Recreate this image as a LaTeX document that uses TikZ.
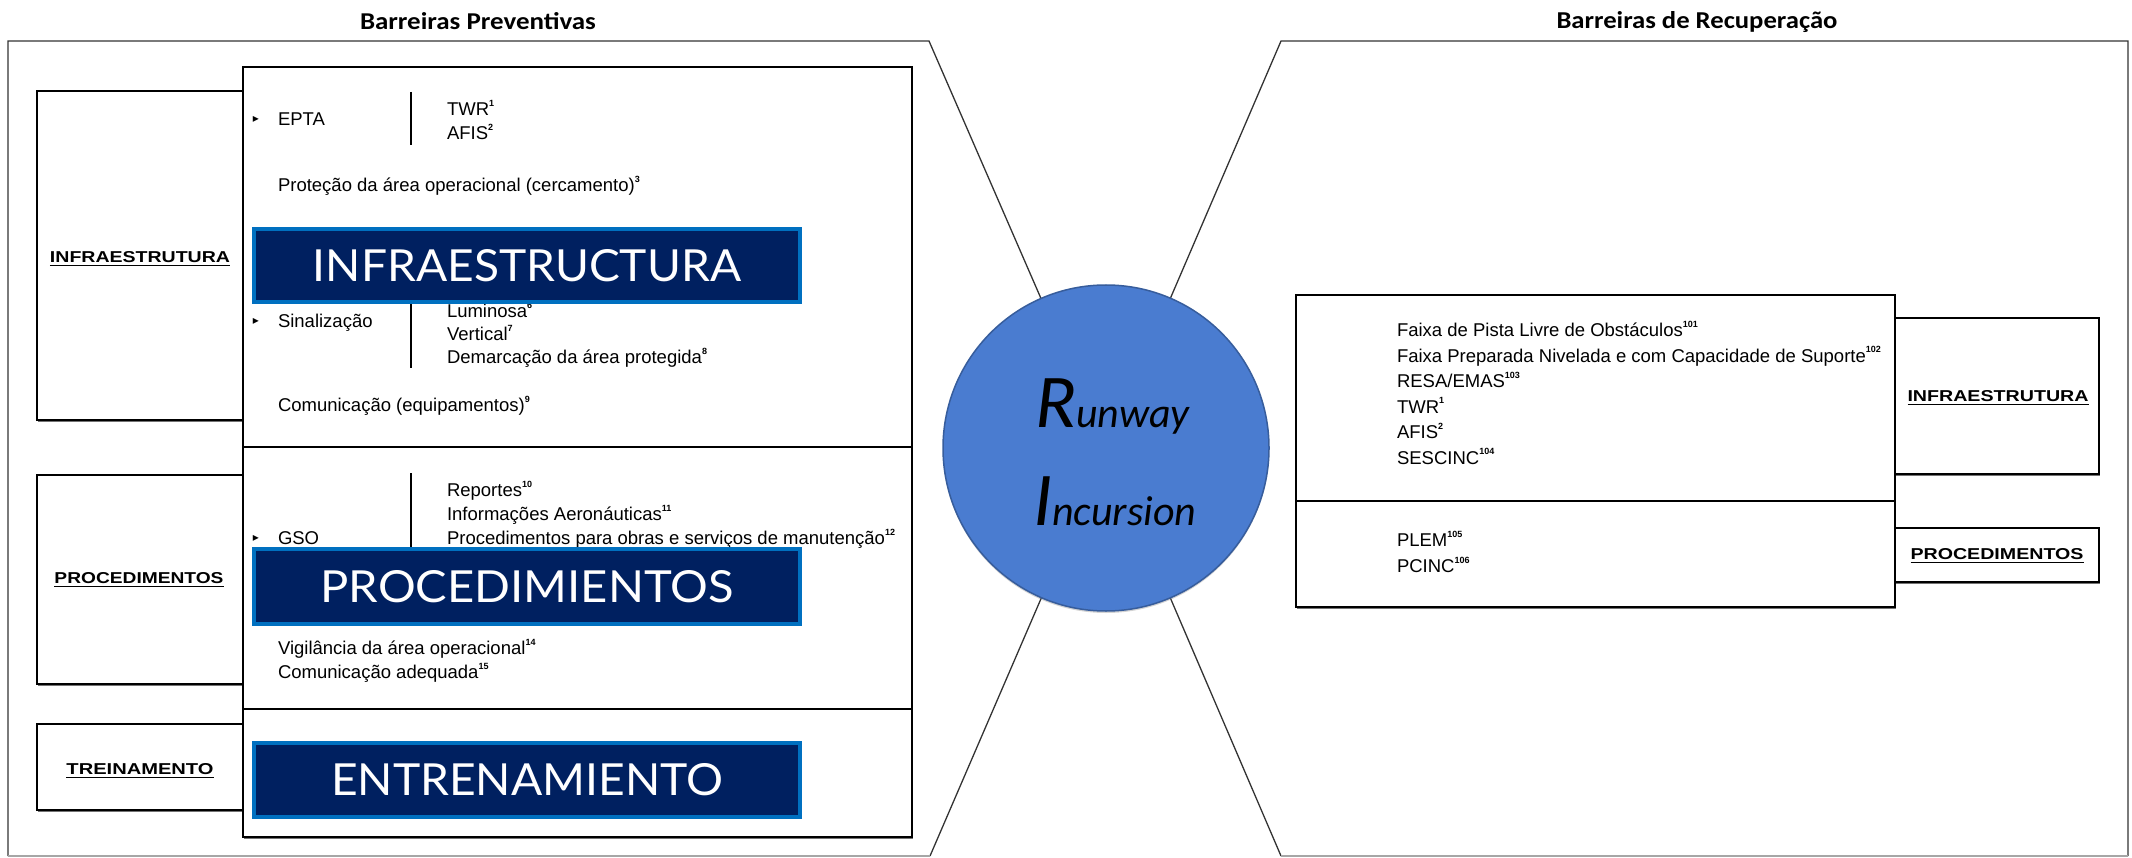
\documentclass[tikz,border=0pt]{standalone}
\usepackage{fontspec}
\setmainfont{Liberation Sans}
\newfontfamily\carl{Carlito}
\newfontfamily\latof{Lato}
\newfontfamily\dejav{DejaVu Sans}
\usetikzlibrary{shadows}
\definecolor{navy}{RGB}{0,32,96}
\definecolor{bblue}{RGB}{0,112,192}
\definecolor{circblue}{RGB}{74,124,208}
\newcommand{\supx}[1]{\raisebox{0.5em}{\fontsize{9}{9}\selectfont\bfseries #1}}
\newcommand{\bul}{{\dejav\fontsize{12}{12}\selectfont ▸}}
\begin{document}
\begin{tikzpicture}[x=1pt,y=-1pt,
  every node/.style={inner sep=0pt, outer sep=0pt},
  outerln/.style={draw=black!80, line width=1.3pt, line join=miter},
  bottomln/.style={draw=black!35, line width=1.3pt},
  boxst/.style={rectangle, draw=black, line width=1.4pt, fill=white,
     drop shadow={shadow xshift=1.2pt, shadow yshift=-2pt, fill=black!55, opacity=1}},
  bluebx/.style={rectangle, draw=bblue, line width=4pt, fill=navy, text=white},
  txt/.style={anchor=base west, font=\fontsize{18.5}{22}\selectfont},
  barln/.style={draw=black, line width=1.3pt},
  bultx/.style={anchor=center}
]
\useasboundingbox (0,0) rectangle (2132,858);
\coordinate (c) at (1106,448);

% titles
\node (tprev) at (478,21) {\resizebox{236pt}{17pt}{\carl\bfseries Barreiras Preventivas}};
\node (trec) at (1697,22) {\resizebox{281pt}{17pt}{\carl\bfseries Barreiras de Recuperação}};

% outer bow-tie shapes
\draw[outerln] (8,856) -- (8,41) -- (929,41) -- (c) -- (930,856);
\draw[bottomln] (8,856) -- (930,856);
\draw[outerln] (2128,856) -- (2128,41) -- (1281,41) -- (c) -- (1281,856);
\draw[bottomln] (1281,856) -- (2128,856);

% left label boxes
\node[boxst, minimum width=206pt, minimum height=329pt] (linfra) at (140,255.5) {};
\node[boxst, minimum width=206pt, minimum height=209pt] (lproc) at (140,579.5) {};
\node[boxst, minimum width=206pt, minimum height=86pt] (ltrein) at (140,767) {};
\node (linfratx) at (140,259) {\resizebox{180pt}{11pt}{\bfseries\underline{INFRAESTRUTURA}}};
\node (lproctx) at (139,580) {\resizebox{169pt}{11pt}{\bfseries\underline{PROCEDIMENTOS}}};
\node (ltreintx) at (140,771) {\resizebox{147pt}{11pt}{\bfseries\underline{TREINAMENTO}}};

% left content sections
\node[boxst, minimum width=669pt, minimum height=380pt] (sinfra) at (577.5,257) {};
\node[boxst, minimum width=669pt, minimum height=262pt] (sproc) at (577.5,578) {};
\node[boxst, minimum width=669pt, minimum height=128pt] (strein) at (577.5,773) {};

% infra content
\node[bultx] (b1) at (256,119) {\bul};
\node[txt] (epta) at (278,125.5) {EPTA};
\draw[barln] (411,92) -- (411,145);
\node[txt] (twr) at (447,115.5) {TWR\supx{1}};
\node[txt] (afis) at (447,139.5) {AFIS\supx{2}};
\node[txt] (prot) at (278,191.5) {Proteção da área operacional (cercamento)\supx{3}};
\node[bultx] (b2) at (256,321) {\bul};
\node[txt] (sinal) at (278,327.5) {Sinalização};
\draw[barln] (411,275) -- (411,368);
\node[txt] (lum) at (447,317.5) {Luminosa\supx{6}};
\node[txt] (vert) at (447,340.5) {Vertical\supx{7}};
\node[txt] (dem) at (447,363.5) {Demarcação da área protegida\supx{8}};
\node[txt] (comeq) at (278,411.5) {Comunicação (equipamentos)\supx{9}};

% procedimentos content
\node[bultx] (b3) at (256,538) {\bul};
\node[txt] (gso) at (278,544.5) {GSO};
\draw[barln] (411,473) -- (411,610);
\node[txt] (rep) at (447,496.5) {Reportes\supx{10}};
\node[txt] (inf) at (447,520.5) {Informações Aeronáuticas\supx{11}};
\node[txt] (pobr) at (447,544.5) {Procedimentos para obras e serviços de manutenção\supx{12}};
\node[txt] (vig) at (278,654.5) {Vigilância da área operacional\supx{14}};
\node[txt] (comad) at (278,678.5) {Comunicação adequada\supx{15}};

% blue overlay boxes
\node[bluebx, minimum width=546pt, minimum height=73pt] (bb1) at (527,265.5)
  {\resizebox{428pt}{32pt}{\latof INFRAESTRUCTURA}};
\node[bluebx, minimum width=546pt, minimum height=75pt] (bb2) at (527,586.5)
  {\resizebox{413pt}{32pt}{\latof PROCEDIMIENTOS}};
\node[bluebx, minimum width=546pt, minimum height=74pt] (bb3) at (527,780)
  {\resizebox{392pt}{32pt}{\latof ENTRENAMIENTO}};

% right label boxes
\node[boxst, minimum width=204pt, minimum height=156pt] (rinfra) at (1997,396) {};
\node[boxst, minimum width=204pt, minimum height=54pt] (rproc) at (1997,555) {};
\node (rinfratx) at (1998,398) {\resizebox{181pt}{11pt}{\bfseries\underline{INFRAESTRUTURA}}};
\node (rproctx) at (1997,556) {\resizebox{173pt}{11pt}{\bfseries\underline{PROCEDIMENTOS}}};

% right content
\node[boxst, minimum width=599pt, minimum height=206pt] (sr1) at (1595.5,398) {};
\node[boxst, minimum width=599pt, minimum height=106pt] (sr2) at (1595.5,554) {};
\node[txt] (r1) at (1397,336.5) {Faixa de Pista Livre de Obstáculos\supx{101}};
\node[txt] (r2) at (1397,362) {Faixa Preparada Nivelada e com Capacidade de Suporte\supx{102}};
\node[txt] (r3) at (1397,387.5) {RESA/EMAS\supx{103}};
\node[txt] (r4) at (1397,413) {TWR\supx{1}};
\node[txt] (r5) at (1397,438.5) {AFIS\supx{2}};
\node[txt] (r6) at (1397,464) {SESCINC\supx{104}};
\node[txt] (r7) at (1397,546.5) {PLEM\supx{105}};
\node[txt] (r8) at (1397,572.5) {PCINC\supx{106}};

% central circle
\node[circle, fill=circblue, draw=circblue!75!black, line width=1.5pt, minimum size=326pt,
  drop shadow={shadow xshift=0pt, shadow yshift=-2pt, opacity=0.35}] (ri) at (c) {};
\node[anchor=base west] (rw) at (1035,427) {\carl\itshape\fontsize{76}{76}\selectfont R\fontsize{42}{42}\selectfont unway};
\node[anchor=base west] (inc) at (1033,525) {\carl\itshape\fontsize{76}{76}\selectfont I\fontsize{42}{42}\selectfont ncursion};
\end{tikzpicture}
\end{document}
